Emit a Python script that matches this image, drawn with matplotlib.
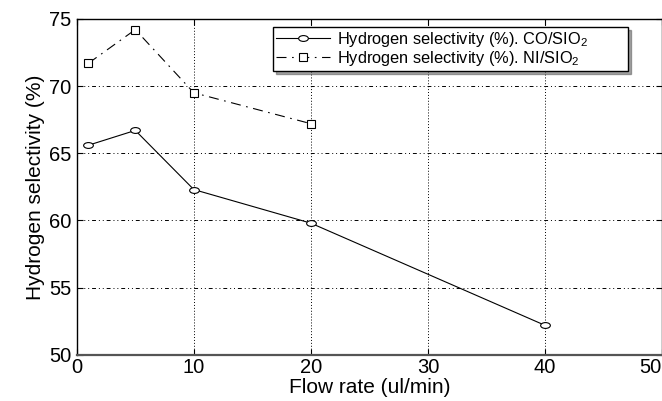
import matplotlib
matplotlib.use("Agg")
import matplotlib.pyplot as plt
from matplotlib.path import Path
from matplotlib.transforms import Affine2D

# Data
flow_co = [1, 5, 10, 20, 40]
sel_co = [65.6, 66.7, 62.3, 59.8, 52.2]
flow_ni = [1, 5, 10, 20]
sel_ni = [71.7, 74.2, 69.5, 67.2]

x_ticks = [0, 10, 20, 30, 40, 50]
y_ticks = [50, 55, 60, 65, 70, 75]

plt.rcParams["font.family"] = ["Liberation Sans", "DejaVu Sans"]
plt.rcParams["mathtext.fontset"] = "custom"
plt.rcParams["mathtext.rm"] = "Liberation Sans"

# flattened circle, like the squashed markers in the original
oval = Path.unit_circle().transformed(Affine2D().scale(1.0, 0.6))

fig = plt.figure(figsize=(6.62, 4.01), dpi=100)
ax = fig.add_axes([0.116, 0.115, 0.884, 0.838])

ax.plot(flow_co, sel_co, color="black", linewidth=0.8, marker=oval,
        markersize=7, markerfacecolor="white", markeredgecolor="black",
        markeredgewidth=0.8, label=r"Hydrogen selectivity (%). CO/SIO$_2$")
ax.plot(flow_ni, sel_ni, color="black", linewidth=0.8, linestyle=(0, (9, 5, 1.5, 5)),
        marker="s", markersize=5.5, markerfacecolor="white", markeredgecolor="black",
        markeredgewidth=0.8, label=r"Hydrogen selectivity (%). NI/SIO$_2$")

ax.set_xlim(0, 50)
ax.set_ylim(50, 75)
ax.set_xticks(x_ticks)
ax.set_yticks(y_ticks)
ax.tick_params(direction="in", top=True, right=True, labelsize=14.5, length=4)
ax.tick_params(axis="x", pad=2)
ax.tick_params(axis="y", pad=4)
# last x label sits at the image edge, push it inward
ax.get_xticklabels()[-1].set_horizontalalignment("right")

ax.xaxis.grid(True, color="black", linestyle=(0, (1, 2)), linewidth=0.7)
ax.yaxis.grid(True, color="black", linestyle=(0, (4, 3, 1, 3, 1, 3)), linewidth=0.7)

for sp in ax.spines.values():
    sp.set_linewidth(1.0)
ax.spines["bottom"].set_color("#555555")
ax.spines["bottom"].set_linewidth(1.6)

ax.set_xlabel("Flow rate (ul/min)", fontsize=15, labelpad=1)
ax.set_ylabel("Hydrogen selectivity (%)", fontsize=15, labelpad=3)

# MATLAB-style legend box, wider than its text
leg = ax.legend(loc="upper left", bbox_to_anchor=(0.335, 0.0, 0.607, 0.976), mode="expand",
                borderaxespad=0, fontsize=11.8, frameon=True, fancybox=False, shadow=True,
                borderpad=0.2, labelspacing=0.0, handlelength=3.3, handletextpad=0.4)
leg.get_frame().set_edgecolor("black")
leg.get_frame().set_linewidth(1.0)

fig.savefig("out.png", dpi=100)
